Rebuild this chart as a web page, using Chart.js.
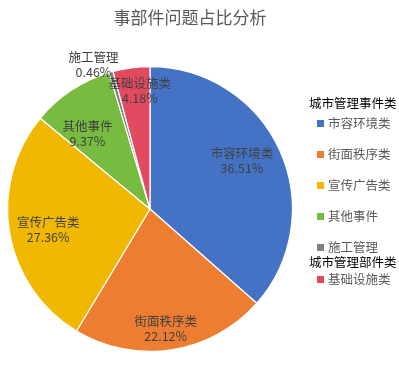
<!DOCTYPE html>
<html>
<head>
<meta charset="utf-8">
<script src="https://cdn.jsdelivr.net/npm/chart.js@4/dist/chart.umd.min.js"></script>
<style>
  html, body { margin: 0; padding: 0; background: #fff; }
  #wrap { position: relative; width: 399px; height: 370px; font-family: "Noto Sans CJK SC", "Noto Sans", sans-serif; }
  #c { position: absolute; left: 0; top: 0; }
  #title { position: absolute; left: 0; width: 380px; top: 4px; text-align: center; font-size: 17px; color: #595959; }
  .lg { position: absolute; font-size: 12.5px; white-space: nowrap; line-height: 16px; }
  .hd { color: #000; left: 309px; }
  .it { color: #595959; left: 317px; }
  .sw { display: inline-block; width: 7px; height: 7px; margin-right: 4px; vertical-align: 1px; }
</style>
</head>
<body>
<div id="wrap">
  <canvas id="c" width="399" height="370"></canvas>
  <div id="title">事部件问题占比分析</div>
</div>
<script>
const chartTitle = '事部件问题占比分析';
const categories = ['市容环境类', '街面秩序类', '宣传广告类', '其他事件', '施工管理', '基础设施类'];
const shares = [36.51, 22.12, 27.36, 9.37, 0.46, 4.18];
const groupNames = ['城市管理事件类', '城市管理部件类'];
const groupOf = [0, 0, 0, 0, 0, 1];
const colors = ['#4472C4', '#ED7D31', '#F0B800', '#78BB41', '#7F7F7F', '#E24A5F'];

// label placement tuning (radius fraction, angle offset in degrees)
const labelRadius = [0.73, 0.85, 0.73, 0.69, 1.09, 0.83];
const labelAngleOff = [-3.5, 1.3, -1.9, -6, -5.5, 2.6];

const labelPlugin = {
  id: 'sliceLabels',
  afterDatasetsDraw(chart) {
    const ctx = chart.ctx;
    const meta = chart.getDatasetMeta(0);
    ctx.save();
    ctx.font = '12.5px "Noto Sans CJK SC", sans-serif';
    ctx.fillStyle = '#404040';
    ctx.textAlign = 'center';
    ctx.textBaseline = 'middle';
    meta.data.forEach((arc, i) => {
      const p = arc.getProps(['x', 'y', 'startAngle', 'endAngle', 'outerRadius'], true);
      const mid = (p.startAngle + p.endAngle) / 2 + labelAngleOff[i] * Math.PI / 180;
      const r = p.outerRadius * labelRadius[i];
      const x = p.x + Math.cos(mid) * r;
      const y = p.y + Math.sin(mid) * r;
      ctx.fillText(categories[i], x, y - 7.5);
      ctx.fillText(shares[i].toFixed(2) + '%', x, y + 7.5);
    });
    ctx.restore();
  }
};

new Chart(document.getElementById('c'), {
  type: 'pie',
  data: {
    labels: categories,
    datasets: [{
      data: shares,
      backgroundColor: colors,
      borderColor: '#ffffff',
      borderWidth: 1.2
    }]
  },
  options: {
    responsive: false,
    animation: false,
    layout: { padding: { left: 7, top: 66, right: 106, bottom: 18 } },
    plugins: {
      legend: { display: false },
      tooltip: { enabled: false },
      title: { display: false }
    }
  },
  plugins: [labelPlugin]
});

// legend (HTML)
const wrap = document.getElementById('wrap');
document.getElementById('title').textContent = chartTitle;
function addHeader(text, cy) {
  const d = document.createElement('div');
  d.className = 'lg hd';
  d.style.top = (cy - 8) + 'px';
  d.textContent = text;
  wrap.appendChild(d);
}
function addItem(i, cy) {
  const d = document.createElement('div');
  d.className = 'lg it';
  d.style.top = (cy - 8) + 'px';
  const s = document.createElement('span');
  s.className = 'sw';
  s.style.background = colors[i];
  d.appendChild(s);
  d.appendChild(document.createTextNode(categories[i]));
  wrap.appendChild(d);
}
let cy = 103;
let lastGroup = -1;
categories.forEach((c, i) => {
  if (groupOf[i] !== lastGroup) {
    if (lastGroup === -1) { addHeader(groupNames[groupOf[i]], 103); cy = 123; }
    else { addHeader(groupNames[groupOf[i]], cy - 16); cy += 1; }
    lastGroup = groupOf[i];
  }
  addItem(i, cy);
  cy += 31;
});
</script>
</body>
</html>
